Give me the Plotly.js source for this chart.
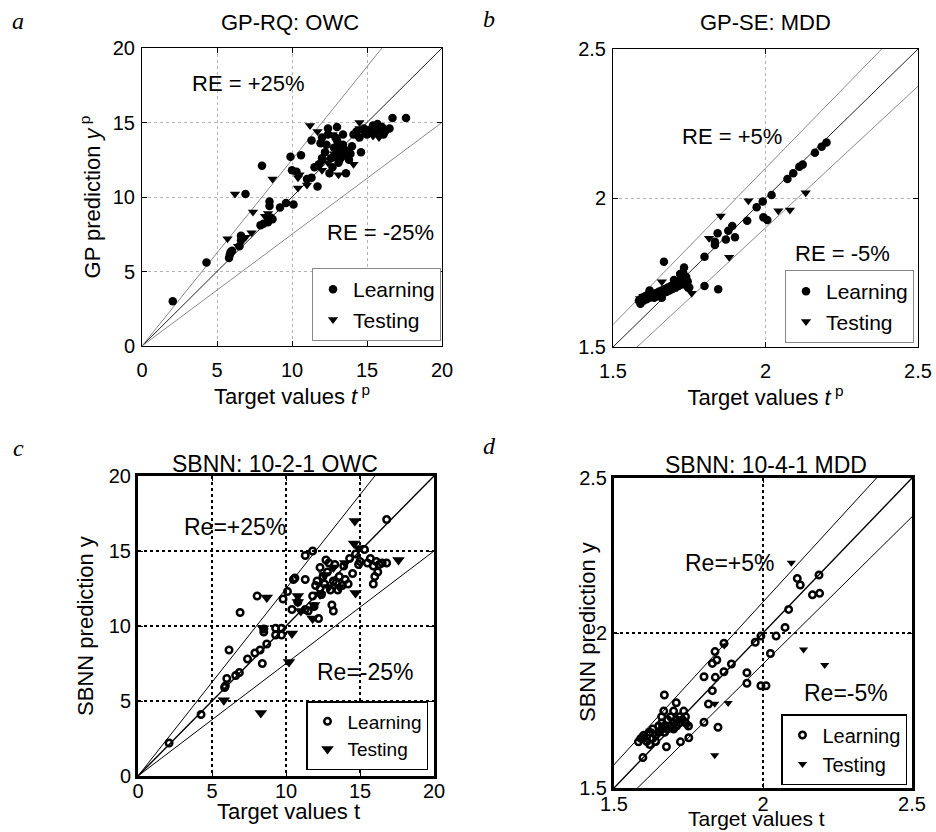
<!DOCTYPE html>
<html>
<head>
<meta charset="utf-8">
<script src="https://cdn.plot.ly/plotly-3.0.1.min.js"></script>
<style>html,body{margin:0;padding:0;background:#fff;}#chart{width:936px;height:832px;}</style>
</head>
<body>
<div id="chart"></div>
<script>
// ---------- Panel a: GP-RQ OWC ----------
const aLearnX = [2.05,4.3,5.8,5.85,5.9,6.0,6.5,6.6,6.6,6.9,7.9,8.1,8.0,8.4,8.5,8.5,8.6,8.7,9.2,9.6,10.1,9.9,10.0,10.3,10.6,11.0,11.3,11.3,11.5,11.7,11.8,11.9,12.0,12.2,12.4,12.4,12.5,12.6,12.7,12.8,12.9,13.0,13.0,13.1,13.2,13.2,13.3,13.4,13.4,13.5,13.6,13.7,13.9,14.1,14.3,14.6,14.8,15.0,15.2,15.4,15.5,15.7,15.9,16.0,16.2,16.5,16.7,17.6,16.1,15.8,14.5,13.8,12.3,12.9,13.1,12.0,14.0];
const aLearnY = [3.0,5.6,5.9,6.1,6.3,6.4,6.7,7.1,7.4,10.2,8.1,8.2,12.1,8.3,9.4,9.7,8.6,8.5,9.3,9.6,9.5,12.7,11.8,11.7,12.8,11.2,13.8,11.3,12.0,10.7,12.2,13.6,14.0,13.0,14.6,14.2,11.6,12.6,12.0,13.3,12.7,14.7,13.8,13.2,12.6,13.4,12.9,13.5,14.2,12.8,11.6,13.1,12.9,14.2,14.4,13.0,14.6,14.2,14.5,14.8,14.3,14.9,14.6,14.7,14.4,14.6,15.3,15.3,14.2,14.4,14.0,12.5,13.5,14.0,12.3,12.6,13.4];
const aTestX = [5.7,6.2,6.4,6.9,7.3,7.4,8.2,8.4,8.7,10.1,10.4,10.5,10.4,11.0,11.2,11.7,11.9,12.0,12.1,12.4,12.7,13.1,13.2,13.5,14.1,14.4,14.5,14.5,14.8,15.4,15.8,13.6,12.8];
const aTestY = [7.2,10.2,6.7,7.3,7.6,9.0,8.7,8.9,11.2,11.8,11.3,11.5,10.6,10.8,14.8,14.4,12.2,11.8,12.5,12.3,14.2,11.5,12.4,13.2,12.2,14.0,15.0,14.6,14.3,14.1,14.0,13.0,12.9];

// ---------- Panel b: GP-SE MDD ----------
const bLearnX = [2.20,2.184,2.162,2.122,2.111,2.091,2.072,2.020,1.991,1.971,1.993,2.006,1.940,1.891,1.878,1.870,1.900,1.843,1.834,1.834,1.80,1.80,1.845,1.667,1.733,
  1.585,1.59,1.595,1.60,1.605,1.61,1.615,1.62,1.625,1.63,1.635,1.64,1.645,1.65,1.655,1.66,1.665,1.67,1.675,1.68,1.685,1.69,1.695,1.70,1.705,1.71,1.715,1.72,1.725,1.73,1.735,1.74,1.745,1.75,1.72,1.73,1.70,1.66,1.62];
const bLearnY = [2.186,2.172,2.152,2.112,2.105,2.083,2.064,2.010,1.988,1.969,1.935,1.926,1.924,1.906,1.890,1.861,1.868,1.882,1.842,1.853,1.803,1.705,1.694,1.786,1.767,
  1.655,1.645,1.665,1.655,1.67,1.66,1.675,1.665,1.68,1.67,1.665,1.68,1.67,1.685,1.675,1.69,1.68,1.695,1.685,1.70,1.69,1.705,1.695,1.71,1.70,1.72,1.705,1.725,1.71,1.73,1.715,1.735,1.72,1.70,1.745,1.75,1.725,1.665,1.69];
const bTestX = [1.853,1.944,2.042,2.080,2.132,1.815,1.881,1.660,1.589,1.758,1.60,1.63,1.68,1.71,1.74];
const bTestY = [1.940,1.991,1.957,1.960,2.018,1.865,1.801,1.719,1.663,1.680,1.67,1.675,1.69,1.70,1.70];

// ---------- Panel c: SBNN 10-2-1 OWC ----------
const cLearnX = [2.1,4.26,5.85,5.9,6.0,6.15,6.6,6.85,6.9,7.4,7.9,8.25,8.4,8.05,8.5,8.5,8.7,9.3,9.7,9.3,9.7,9.8,10.1,10.4,10.5,10.8,11.3,11.8,11.3,11.5,11.8,11.9,12.2,12.0,12.1,12.3,12.3,12.5,12.6,12.8,12.9,13.0,13.1,13.2,13.2,13.3,13.4,13.6,13.8,14.0,14.2,14.3,14.5,14.7,15.0,15.3,15.5,15.7,15.9,16.1,16.3,16.5,16.8,16.8,15.9,16.0,16.2,14.9,12.7,13.9,12.4,13.5,10.6,11.3];
const cLearnY = [2.2,4.1,5.9,6.0,6.5,8.4,6.7,6.9,10.9,7.8,8.2,8.4,7.5,12.0,9.8,9.6,8.8,9.85,9.85,9.4,9.4,11.8,12.3,11.1,13.1,11.6,14.7,15.0,13.1,11.0,12.0,11.3,10.5,12.7,13.0,12.5,13.9,13.3,12.8,13.6,14.2,12.4,11.4,11.0,13.0,14.1,12.9,13.3,12.7,13.1,12.8,14.5,13.5,14.8,14.3,15.1,14.2,14.5,14.0,14.3,14.1,14.2,14.2,17.1,12.8,13.3,13.6,14.1,14.4,14.0,12.1,12.4,13.2,11.1];
const cTestX = [5.8,8.3,8.45,8.7,10.2,10.4,10.8,10.8,11.0,11.8,11.9,12.6,12.9,13.6,14.0,14.65,14.6,14.7,14.9,17.6,13.2,12.3];
const cTestY = [5.05,4.2,9.85,11.9,7.6,9.5,12.0,11.6,11.0,10.5,11.4,13.4,12.6,12.6,14.2,17.0,15.5,12.2,15.2,14.4,13.9,12.1];

// ---------- Panel d: SBNN 10-4-1 MDD ----------
const dLearnX = [2.188,2.19,2.166,2.115,2.125,2.086,2.074,2.044,2.025,1.993,1.974,1.993,2.01,1.946,1.946,1.894,1.869,1.869,1.839,1.845,1.830,1.84,1.83,1.802,1.817,1.849,1.802,1.669,1.709,1.667,1.70,1.734,1.751,1.723,1.676,1.597,1.582,
  1.59,1.60,1.61,1.62,1.63,1.63,1.64,1.65,1.65,1.66,1.66,1.67,1.67,1.68,1.68,1.69,1.70,1.70,1.71,1.71,1.72,1.72,1.73,1.74,1.74,1.62,1.64,1.66,1.69,1.75,1.60];
const dLearnY = [2.187,2.128,2.123,2.176,2.155,2.076,2.018,1.990,1.934,1.990,1.970,1.830,1.830,1.872,1.838,1.900,1.875,1.967,1.940,1.913,1.902,1.857,1.814,1.859,1.771,1.696,1.712,1.800,1.775,1.748,1.748,1.748,1.662,1.649,1.633,1.598,1.649,
  1.66,1.67,1.65,1.68,1.66,1.69,1.67,1.70,1.68,1.69,1.71,1.68,1.70,1.72,1.69,1.70,1.71,1.69,1.72,1.70,1.73,1.71,1.72,1.71,1.73,1.64,1.65,1.73,1.73,1.70,1.66];
const dTestX = [2.095,2.136,2.207,1.883,1.838,1.838,1.87,1.60,1.62,1.745,1.66,1.70];
const dTestY = [2.227,1.947,1.897,1.774,1.772,1.606,1.96,1.67,1.685,1.70,1.68,1.69];

// reference lines (relative error bounds)
const owcRange = [0, 20];
const mddRange = [1.5, 2.5];
const owcBounds = [1.25, 1.0, 0.75];
const mddBounds = [1.05, 1.0, 0.95];

const FONT = 'Liberation Sans, Arial, Helvetica, sans-serif';
const SERIF = 'Liberation Serif, Times New Roman, serif';

function refTraces(range, ks, xa, ya, colors, widths) {
  return ks.map((k, i) => ({
    x: range, y: range.map(v => v * k), xaxis: xa, yaxis: ya,
    mode: 'lines', line: {color: colors[i], width: widths[i]},
    showlegend: false, hoverinfo: 'skip'
  }));
}

const traces = [];
// Panel a
traces.push(...refTraces(owcRange, owcBounds, 'x', 'y', ['#8a8a8a','#222','#8a8a8a'], [1,1,1]));
traces.push({x: aLearnX, y: aLearnY, xaxis:'x', yaxis:'y', mode:'markers', name:'Learning', legend:'legend',
  marker:{symbol:'circle', size:8.5, color:'#000'}});
traces.push({x: aTestX, y: aTestY, xaxis:'x', yaxis:'y', mode:'markers', name:'Testing', legend:'legend',
  marker:{symbol:'triangle-down', size:9, color:'#000'}});
// Panel b
traces.push(...refTraces(mddRange, mddBounds, 'x2', 'y2', ['#8a8a8a','#222','#8a8a8a'], [1,1,1]));
traces.push({x: bLearnX, y: bLearnY, xaxis:'x2', yaxis:'y2', mode:'markers', name:'Learning', legend:'legend2',
  marker:{symbol:'circle', size:8.5, color:'#000'}});
traces.push({x: bTestX, y: bTestY, xaxis:'x2', yaxis:'y2', mode:'markers', name:'Testing', legend:'legend2',
  marker:{symbol:'triangle-down', size:9, color:'#000'}});
// Panel c
traces.push(...refTraces(owcRange, owcBounds, 'x3', 'y3', ['#000','#000','#000'], [1,1.4,1]));
traces.push({x: cLearnX, y: cLearnY, xaxis:'x3', yaxis:'y3', mode:'markers', name:'Learning', legend:'legend3',
  marker:{symbol:'circle-open', size:6.5, color:'#000', line:{width:2.5, color:'#000'}}});
traces.push({x: cTestX, y: cTestY, xaxis:'x3', yaxis:'y3', mode:'markers', name:'Testing', legend:'legend3',
  marker:{symbol:'triangle-down', size:11, color:'#000'}});
// Panel d
traces.push(...refTraces(mddRange, mddBounds, 'x4', 'y4', ['#000','#000','#000'], [1,1.4,1]));
traces.push({x: dLearnX, y: dLearnY, xaxis:'x4', yaxis:'y4', mode:'markers', name:'Learning', legend:'legend4',
  marker:{symbol:'circle-open', size:6.5, color:'#000', line:{width:2.5, color:'#000'}}});
traces.push({x: dTestX, y: dTestY, xaxis:'x4', yaxis:'y4', mode:'markers', name:'Testing', legend:'legend4',
  marker:{symbol:'triangle-down', size:8, color:'#000'}});

function axis(domain, range, tickvals, anchor, o) {
  return Object.assign({
    domain: domain, range: range, anchor: anchor,
    tickmode: 'array', tickvals: tickvals, ticktext: tickvals.map(String),
    ticks: 'inside', ticklen: 5, tickcolor: '#000',
    showline: true, linecolor: '#000', linewidth: 1, mirror: 'ticks',
    showgrid: true, gridcolor: '#b5b5b5', griddash: 'dot', gridwidth: 1,
    zeroline: false, fixedrange: true,
    tickfont: {family: FONT, size: 20, color: '#000'}
  }, o || {});
}

const W = 936, H = 832;
const px = v => v / W, py = v => 1 - v / H;

const owcTicks = [0, 5, 10, 15, 20];
const mddTicks = [1.5, 2, 2.5];
const titleFont = {family: FONT, size: 22, color: '#000'};
const bigFont = {family: FONT, size: 23, color: '#000'};
const lowFont = {family: FONT, size: 21, color: '#000'};

function paperText(text, x, y, font, extra) {
  return Object.assign({text: text, x: px(x), y: py(y), xref: 'paper', yref: 'paper',
    xanchor: 'center', yanchor: 'middle', showarrow: false, font: font}, extra || {});
}
function dataText(text, x, y, xr, yr, font) {
  return {text: text, x: x, y: y, xref: xr, yref: yr, xanchor: 'left', yanchor: 'middle',
    showarrow: false, font: font};
}
const letterFont = {family: SERIF, size: 24, color: '#000'};

const layout = {
  width: W, height: H,
  margin: {l: 0, r: 0, t: 0, b: 0},
  paper_bgcolor: '#fff', plot_bgcolor: '#fff',
  showlegend: true,
  font: {family: FONT, color: '#000'},
  xaxis: axis([px(142), px(442)], owcRange, owcTicks, 'y',
    {title: {text: 'Target values <i>t</i><sup> p</sup>', font: titleFont, standoff: 6}, ticklabelstandoff: 6}),
  yaxis: axis([py(346), py(48)], owcRange, owcTicks, 'x',
    {title: {text: 'GP prediction <i>y</i><sup> p</sup>', font: titleFont, standoff: 6}, ticklabelstandoff: 2}),
  xaxis2: axis([px(613), px(918)], mddRange, mddTicks, 'y2',
    {title: {text: 'Target values <i>t</i><sup> p</sup>', font: titleFont, standoff: 6}, ticklabelstandoff: 6}),
  yaxis2: axis([py(347), py(49)], mddRange, mddTicks, 'x2', {ticklabelstandoff: 2}),
  xaxis3: axis([px(138), px(434)], owcRange, owcTicks, 'y3',
    {linewidth: 3, gridcolor: '#000', gridwidth: 1.5, ticklabelstandoff: -5}),
  yaxis3: axis([py(776), py(476)], owcRange, owcTicks, 'x3',
    {linewidth: 3, gridcolor: '#000', gridwidth: 1.5,
     title: {text: 'SBNN prediction y', font: titleFont, standoff: 10}, ticklabelstandoff: 0}),
  xaxis4: axis([px(614), px(912)], mddRange, mddTicks, 'y4',
    {linewidth: 3, gridcolor: '#000', gridwidth: 1.5, ticklabelstandoff: -4}),
  yaxis4: axis([py(788), py(478)], mddRange, mddTicks, 'x4',
    {linewidth: 3, gridcolor: '#000', gridwidth: 1.5, ticklabelstandoff: 0}),
  legend: {x: px(441), y: py(341), xanchor: 'right', yanchor: 'bottom', bgcolor: '#fff',
    bordercolor: '#888', borderwidth: 1, font: {family: FONT, size: 21, color: '#000'}, tracegroupgap: 0},
  legend2: {x: px(914), y: py(343), xanchor: 'right', yanchor: 'bottom', bgcolor: '#fff',
    bordercolor: '#888', borderwidth: 1, font: {family: FONT, size: 21, color: '#000'}, tracegroupgap: 0},
  legend3: {x: px(428), y: py(770), xanchor: 'right', yanchor: 'bottom', bgcolor: '#fff',
    bordercolor: '#000', borderwidth: 1.5, font: {family: FONT, size: 19, color: '#000'}, tracegroupgap: 0},
  legend4: {x: px(907), y: py(785), xanchor: 'right', yanchor: 'bottom', bgcolor: '#fff',
    bordercolor: '#000', borderwidth: 1.5, font: {family: FONT, size: 20, color: '#000'}, tracegroupgap: 0},
  annotations: [
    // panel letters
    paperText('<i>a</i>', 18, 21, letterFont),
    paperText('<i>b</i>', 489, 19, letterFont),
    paperText('<i>c</i>', 18, 448, letterFont),
    paperText('<i>d</i>', 489, 446, letterFont),
    // panel titles
    paperText('GP-RQ: OWC', 290, 22, titleFont),
    paperText('GP-SE: MDD', 765, 22, titleFont),
    paperText('SBNN: 10-2-1 OWC', 275, 464, bigFont),
    paperText('SBNN: 10-4-1 MDD', 766, 465, bigFont),
    // panel c / d axis titles placed as in the reference (close under the tick labels)
    paperText('Target values t', 288, 811, titleFont),
    paperText('Target values t', 756, 818, lowFont),
    paperText('SBNN prediction y', 587, 632, titleFont, {textangle: -90}),
    // relative error labels
    dataText('RE = +25%', 3.2, 17.65, 'x', 'y', titleFont),
    dataText('RE = -25%', 12.2, 7.6, 'x', 'y', titleFont),
    dataText('RE = +5%', 1.72, 2.205, 'x2', 'y2', titleFont),
    dataText('RE = -5%', 2.09, 1.815, 'x2', 'y2', titleFont),
    dataText('Re=+25%', 2.97, 16.6, 'x3', 'y3', bigFont),
    dataText('Re=-25%', 11.96, 6.93, 'x3', 'y3', bigFont),
    dataText('Re=+5%', 1.733, 2.226, 'x4', 'y4', bigFont),
    dataText('Re=-5%', 2.132, 1.806, 'x4', 'y4', bigFont)
  ]
};

Plotly.newPlot('chart', traces, layout, {displayModeBar: false, staticPlot: true});
</script>
</body>
</html>
